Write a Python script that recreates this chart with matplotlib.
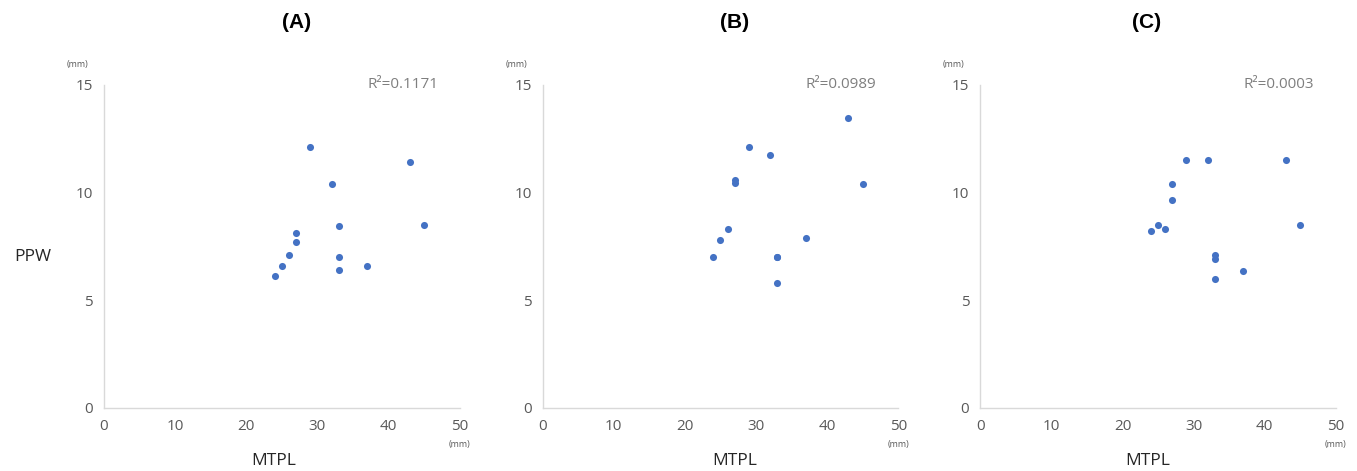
import matplotlib
matplotlib.use("Agg")
import matplotlib.pyplot as plt

# MTPL (x) vs PPW (y), three panels
x_a = [24, 25, 26, 27, 27, 29, 32, 33, 33, 33, 37, 43, 45]
y_a = [6.1, 6.6, 7.1, 7.7, 8.1, 12.1, 10.4, 8.45, 7.0, 6.4, 6.6, 11.4, 8.5]

x_b = [24, 25, 26, 27, 27, 29, 32, 33, 33, 33, 37, 43, 45]
y_b = [7.0, 7.8, 8.3, 10.6, 10.45, 12.1, 11.75, 7.0, 7.0, 5.8, 7.9, 13.45, 10.4]

x_c = [24, 25, 26, 27, 27, 29, 32, 33, 33, 33, 37, 43, 45]
y_c = [8.2, 8.5, 8.3, 10.4, 9.65, 11.5, 11.5, 7.1, 6.9, 6.0, 6.35, 11.5, 8.5]

titles = ["(A)", "(B)", "(C)"]
r2_labels = ["R²=0.1171", "R²=0.0989", "R²=0.0003"]
xticks = [0, 10, 20, 30, 40, 50]
yticks = [0, 5, 10, 15]

plt.rcParams['font.family'] = ['Open Sans', 'DejaVu Sans']

W, H = 1357, 471
fig = plt.figure(figsize=(W / 100, H / 100), dpi=100)

lefts = [104, 542.7, 980.3]
title_x = [297, 735, 1147]
label_x = [274, 735, 1148]
data = [(x_a, y_a), (x_b, y_b), (x_c, y_c)]

for i, (xs, ys) in enumerate(data):
    ax = fig.add_axes([lefts[i] / W, (H - 407.7) / H, 355.5 / W, 322.7 / H])
    ax.scatter(xs, ys, s=26, color='#4472C4', zorder=3, linewidths=0)
    ax.set_xlim(0, 50)
    ax.set_ylim(0, 15)
    ax.set_xticks(xticks)
    ax.set_yticks(yticks)
    for s in ['top', 'right']:
        ax.spines[s].set_visible(False)
    for s in ['left', 'bottom']:
        ax.spines[s].set_color('#D9D9D9')
        ax.spines[s].set_linewidth(1.0)
    ax.tick_params(length=0, labelsize=11, labelcolor='#595959', pad=8)
    ax.text(0.84, 1.0, r2_labels[i], transform=ax.transAxes, ha='center',
            va='center', fontsize=11, color='#7F7F7F')
    ax.text(-0.075, 1.065, "(mm)", transform=ax.transAxes, ha='center',
            va='center', fontsize=6.5, color='#595959')
    ax.text(1.0, -0.115, "(mm)", transform=ax.transAxes, ha='center',
            va='center', fontsize=6.5, color='#595959')

    fig.text(title_x[i] / W, 1 - 22 / H, titles[i], ha='center', va='center',
             fontsize=15, fontweight='bold', family='Liberation Sans')
    fig.text(label_x[i] / W, 1 - 461 / H, "MTPL", ha='center', va='center',
             fontsize=12.5, color='#262626')

fig.text(33 / W, 1 - 257 / H, "PPW", ha='center', va='center',
         fontsize=12.5, color='#262626')

fig.savefig("out.png", dpi=100)
